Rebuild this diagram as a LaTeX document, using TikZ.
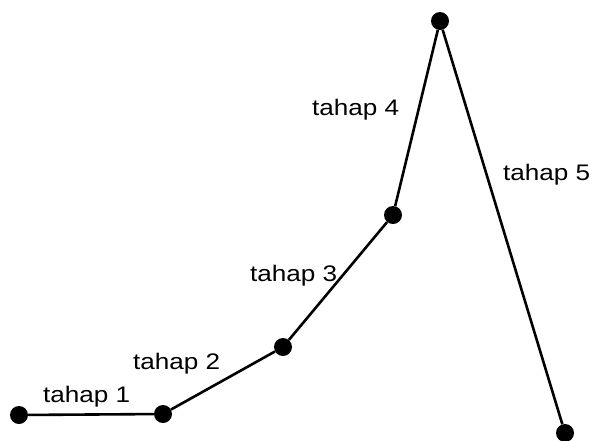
\documentclass[tikz,border=0pt]{standalone}
\usepackage{fontspec}
\newfontfamily\tahapfont[FakeStretch=1.16]{Liberation Sans}
\usepackage{tikz}
\tikzset{
  titik/.style={
    shape = circle,
    fill,
    inner sep = 0pt,
    minimum size = 18pt
  },
  garis/.style={
    line width = 2.6pt
  },
  tahap/.style={
    anchor = base west,
    inner sep = 0pt,
    font = \tahapfont\fontsize{22.5}{26}\selectfont
  }
}
\begin{document}
\begin{tikzpicture}[x=1pt,y=-1pt]
        \useasboundingbox (0,0) rectangle (595,440);
        % titik-titik
        \node[titik] (t1) at (19,415) {};
        \node[titik] (t2) at (163,414) {};
        \node[titik] (t3) at (283,347) {};
        \node[titik] (t4) at (393,215) {};
        \node[titik] (t5) at (440,21) {};
        \node[titik] (t6) at (565,433) {};
        % garis antar titik
        \draw[garis] (t1)--(t2)--(t3)--(t4)--(t5)--(t6);
        % label
        \node[tahap] (l1) at (43,402) {tahap 1};
        \node[tahap] (l2) at (133,369) {tahap 2};
        \node[tahap] (l3) at (250,281) {tahap 3};
        \node[tahap] (l4) at (312,115) {tahap 4};
        \node[tahap] (l5) at (503,180) {tahap 5};
    \end{tikzpicture}
\end{document}
